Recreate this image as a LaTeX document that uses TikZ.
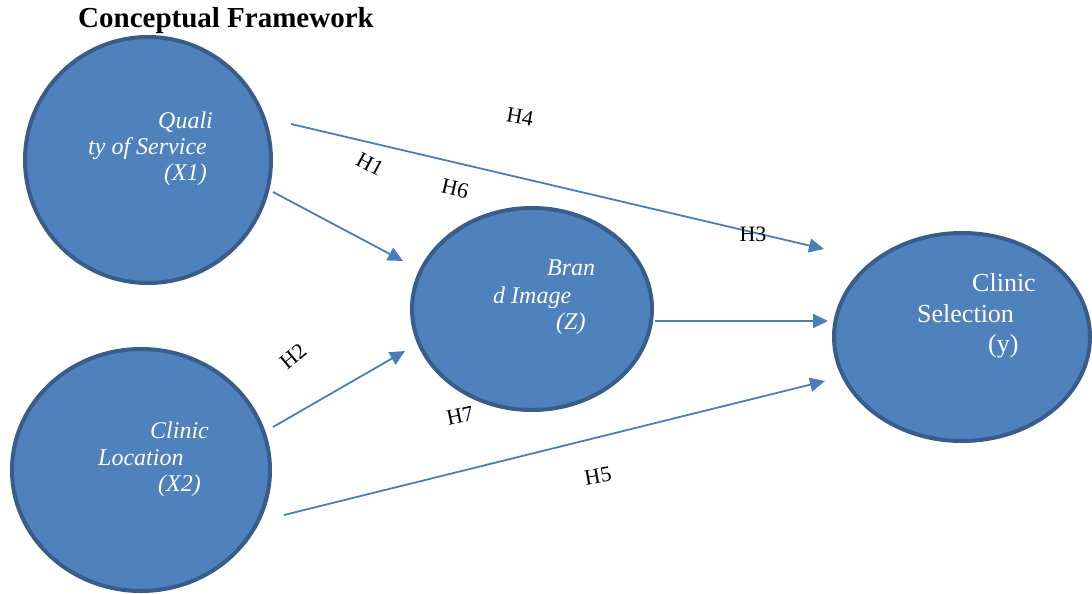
\documentclass[tikz,border=0pt]{standalone}
\usepackage{fontspec}
\setmainfont{Liberation Serif}
\usetikzlibrary{arrows.meta}
\definecolor{bubfill}{HTML}{4F81BD}
\definecolor{bubedge}{HTML}{385D8A}
\definecolor{linkcol}{HTML}{4A7EBB}
\tikzset{
  link/.style={draw=linkcol, line width=1.8pt, -{Triangle[length=15pt,width=14pt]}},
  itxt/.style={anchor=base west, text=white, font=\fontsize{24}{28}\selectfont\itshape, inner sep=0pt},
  rtxt/.style={anchor=base west, text=white, font=\fontsize{26}{30}\selectfont, inner sep=0pt},
  hyp/.style={font=\fontsize{22}{26}\selectfont, inner sep=0pt},
}
\begin{document}
\begin{tikzpicture}[x=1pt,y=-1pt]
\useasboundingbox (0,0) rectangle (1092,594);
\fill[white] (0,0) rectangle (1092,594);
% title
\node[anchor=base west, inner sep=0pt, font=\fontsize{29}{33}\selectfont\bfseries] (title) at (78,28) {Conceptual Framework};
% bubbles
\draw[bubedge, fill=bubfill, line width=4pt] (148,160) ellipse [x radius=123, y radius=123];
\coordinate (q) at (148,160);
\draw[bubedge, fill=bubfill, line width=4pt] (141,470) ellipse [x radius=129, y radius=121];
\coordinate (l) at (141,470);
\draw[bubedge, fill=bubfill, line width=4pt] (532,309) ellipse [x radius=120, y radius=101];
\coordinate (b) at (532,309);
\draw[bubedge, fill=bubfill, line width=4pt] (962,337) ellipse [x radius=128, y radius=104];
\coordinate (s) at (962,337);
% texts
\node[itxt] (q1) at (158,128) {Quali};
\node[itxt] (q2) at (88,154) {ty of Service};
\node[itxt] (q3) at (164,180) {(X1)};
\node[itxt] (l1) at (150,438) {Clinic};
\node[itxt] (l2) at (98,465) {Location};
\node[itxt] (l3) at (158,491) {(X2)};
\node[itxt] (b1) at (547,275) {Bran};
\node[itxt] (b2) at (493,303) {d Image};
\node[itxt] (b3) at (556,329) {(Z)};
\node[rtxt] (s1) at (972,291) {Clinic};
\node[rtxt] (s2) at (917,322) {Selection};
\node[rtxt] (s3) at (988,352) {(y)};
% connector end points
\coordinate (a4s) at (291,124);
\coordinate (a4e) at (824,249);
\coordinate (a1s) at (273,192);
\coordinate (a1e) at (403,261);
\coordinate (a2s) at (273,427);
\coordinate (a2e) at (405,351);
\coordinate (abs) at (655,321);
\coordinate (abe) at (828,321);
\coordinate (a5s) at (284,515);
\coordinate (a5e) at (825,381);
\draw[link] (a4s) -- (a4e);
\draw[link] (a1s) -- (a1e);
\draw[link] (a2s) -- (a2e);
\draw[link] (abs) -- (abe);
\draw[link] (a5s) -- (a5e);
% hypothesis labels
\node[hyp, rotate=-10] (h4) at (520,117) {H4};
\node[hyp, rotate=-28] (h1) at (370,164) {H1};
\node[hyp, rotate=-13] (h6) at (455,189) {H6};
\node[hyp] (h3) at (753,234) {H3};
\node[hyp, rotate=40] (h2) at (293,356) {H2};
\node[hyp, rotate=12] (h7) at (460,416) {H7};
\node[hyp, rotate=10] (h5) at (598,476) {H5};
\end{tikzpicture}
\end{document}
